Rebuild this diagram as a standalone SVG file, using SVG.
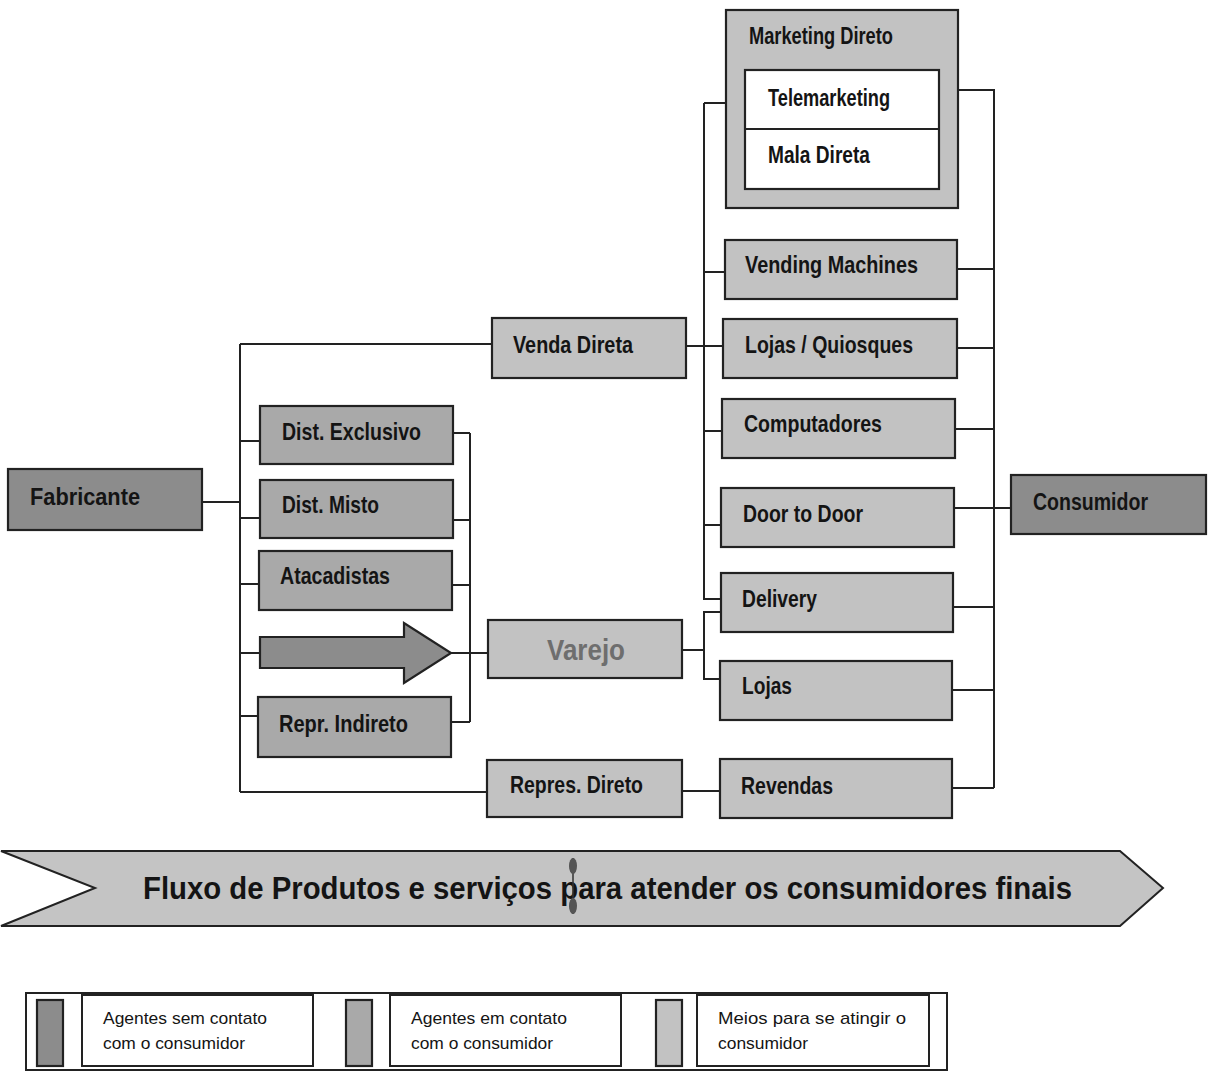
<svg xmlns="http://www.w3.org/2000/svg" width="1209" height="1072" viewBox="0 0 1209 1072">
<style>
.bx{stroke:#222;stroke-width:2.2}
.dark{fill:#8c8c8c}
.mid{fill:#a9a9a9}
.light{fill:#c2c2c2}
.lbl{font-family:"Liberation Sans",Arial,sans-serif;font-weight:bold;font-size:24px;fill:#141414}
.leg{font-family:"Liberation Sans",Arial,sans-serif;font-size:17px;fill:#141414}
.ln{fill:none;stroke:#222;stroke-width:2}
</style>
<rect x="0" y="0" width="1209" height="1072" fill="#ffffff"/>

<g id="connectors" class="ln">
<path d="M202,502 H240 M240,344 V792 M240,344 H492 M240,441 H260 M240,518 H260 M240,584 H260 M240,653 H260 M240,716 H258 M240,792 H487"/>
<path d="M453,433 H470 M453,520 H470 M453,585 H470 M451,722 H470 M470,433 V722 M451,653 H488"/>
<path d="M686,346 H723 M704,103 V599 H721 M704,103 H726 M704,272 H725 M704,431 H722 M704,525 H721"/>
<path d="M682,650 H704 M721,612 H704 V679 H720"/>
<path d="M958,90 H994 V788 M957,269 H994 M957,348 H994 M955,429 H994 M954,508 H1011 M953,607 H994 M952,690 H994 M952,788 H994"/>
<path d="M682,791 H720"/>
</g>

<g id="fabricante"><rect class="bx dark" x="8" y="469" width="194" height="61"/><text class="lbl" x="30" y="505" textLength="110" lengthAdjust="spacingAndGlyphs">Fabricante</text></g>

<g id="dist-exclusivo"><rect class="bx mid" x="260" y="406" width="193" height="58"/><text class="lbl" x="282" y="440" textLength="139" lengthAdjust="spacingAndGlyphs">Dist. Exclusivo</text></g>
<g id="dist-misto"><rect class="bx mid" x="260" y="480" width="193" height="58"/><text class="lbl" x="282" y="513" textLength="97" lengthAdjust="spacingAndGlyphs">Dist. Misto</text></g>
<g id="atacadistas"><rect class="bx mid" x="259" y="551" width="193" height="59"/><text class="lbl" x="280" y="584" textLength="110" lengthAdjust="spacingAndGlyphs">Atacadistas</text></g>
<g id="seta"><path class="bx dark" d="M260,637 H404 V623 L451,653 L404,683 V668 H260 Z"/></g>
<g id="repr-indireto"><rect class="bx mid" x="258" y="697" width="193" height="60"/><text class="lbl" x="279" y="732" textLength="129" lengthAdjust="spacingAndGlyphs">Repr. Indireto</text></g>

<g id="venda-direta"><rect class="bx light" x="492" y="318" width="194" height="60"/><text class="lbl" x="513" y="353" textLength="120" lengthAdjust="spacingAndGlyphs">Venda Direta</text></g>
<g id="varejo"><rect class="bx light" x="488" y="620" width="194" height="58"/><text class="lbl" x="547" y="660" style="font-size:29px;fill:#6e6e6e" textLength="78" lengthAdjust="spacingAndGlyphs">Varejo</text></g>
<g id="repres-direto"><rect class="bx light" x="487" y="760" width="195" height="57"/><text class="lbl" x="510" y="793" textLength="133" lengthAdjust="spacingAndGlyphs">Repres. Direto</text></g>

<g id="marketing-direto">
<rect class="bx light" x="726" y="10" width="232" height="198"/>
<text class="lbl" x="749" y="44" textLength="144" lengthAdjust="spacingAndGlyphs">Marketing Direto</text>
<rect class="bx" fill="#ffffff" x="745" y="70" width="194" height="119"/>
<line class="ln" x1="745" y1="129" x2="939" y2="129"/>
<text class="lbl" x="768" y="106" textLength="122" lengthAdjust="spacingAndGlyphs">Telemarketing</text>
<text class="lbl" x="768" y="163" textLength="102" lengthAdjust="spacingAndGlyphs">Mala Direta</text>
</g>

<g id="vending-machines"><rect class="bx light" x="725" y="240" width="232" height="59"/><text class="lbl" x="745" y="273" textLength="173" lengthAdjust="spacingAndGlyphs">Vending Machines</text></g>
<g id="lojas-quiosques"><rect class="bx light" x="723" y="319" width="234" height="59"/><text class="lbl" x="745" y="353" textLength="168" lengthAdjust="spacingAndGlyphs">Lojas / Quiosques</text></g>
<g id="computadores"><rect class="bx light" x="722" y="399" width="233" height="59"/><text class="lbl" x="744" y="432" textLength="138" lengthAdjust="spacingAndGlyphs">Computadores</text></g>
<g id="door-to-door"><rect class="bx light" x="721" y="488" width="233" height="59"/><text class="lbl" x="743" y="522" textLength="120" lengthAdjust="spacingAndGlyphs">Door to Door</text></g>
<g id="delivery"><rect class="bx light" x="721" y="573" width="232" height="59"/><text class="lbl" x="742" y="607" textLength="75" lengthAdjust="spacingAndGlyphs">Delivery</text></g>
<g id="lojas"><rect class="bx light" x="720" y="661" width="232" height="59"/><text class="lbl" x="742" y="694" textLength="50" lengthAdjust="spacingAndGlyphs">Lojas</text></g>
<g id="revendas"><rect class="bx light" x="720" y="759" width="232" height="59"/><text class="lbl" x="741" y="794" textLength="92" lengthAdjust="spacingAndGlyphs">Revendas</text></g>

<g id="consumidor"><rect class="bx dark" x="1011" y="475" width="195" height="59"/><text class="lbl" x="1033" y="510" textLength="115" lengthAdjust="spacingAndGlyphs">Consumidor</text></g>

<g id="fluxo">
<path fill="#c4c4c4" stroke="#222" stroke-width="2" d="M1,851 H1120 L1163,888 L1120,926 H1 L95,888 Z"/>
<text class="lbl" x="143" y="899" style="font-size:31px" textLength="929" lengthAdjust="spacingAndGlyphs">Fluxo de Produtos e serviços para atender os consumidores finais</text>
<line x1="573" y1="858" x2="573" y2="914" stroke="#333" stroke-width="1.5"/>
<ellipse cx="573" cy="866" rx="4" ry="8" fill="#555"/>
<ellipse cx="573" cy="906" rx="4" ry="8" fill="#555"/>
</g>

<g id="legenda">
<rect fill="#ffffff" stroke="#222" stroke-width="2" x="26" y="993" width="921" height="77"/>
<rect class="bx dark" x="37" y="1000" width="26" height="66"/>
<rect fill="#ffffff" stroke="#222" stroke-width="2" x="82" y="995" width="231" height="71"/>
<text class="leg" x="103" y="1024" textLength="164" lengthAdjust="spacingAndGlyphs">Agentes sem contato</text>
<text class="leg" x="103" y="1049" textLength="142" lengthAdjust="spacingAndGlyphs">com o consumidor</text>
<rect class="bx mid" x="346" y="1000" width="26" height="66"/>
<rect fill="#ffffff" stroke="#222" stroke-width="2" x="390" y="995" width="231" height="71"/>
<text class="leg" x="411" y="1024" textLength="156" lengthAdjust="spacingAndGlyphs">Agentes em contato</text>
<text class="leg" x="411" y="1049" textLength="142" lengthAdjust="spacingAndGlyphs">com o consumidor</text>
<rect class="bx light" x="656" y="1000" width="26" height="66"/>
<rect fill="#ffffff" stroke="#222" stroke-width="2" x="697" y="995" width="232" height="71"/>
<text class="leg" x="718" y="1024" textLength="188" lengthAdjust="spacingAndGlyphs">Meios para se atingir o</text>
<text class="leg" x="718" y="1049" textLength="90" lengthAdjust="spacingAndGlyphs">consumidor</text>
</g>
</svg>
